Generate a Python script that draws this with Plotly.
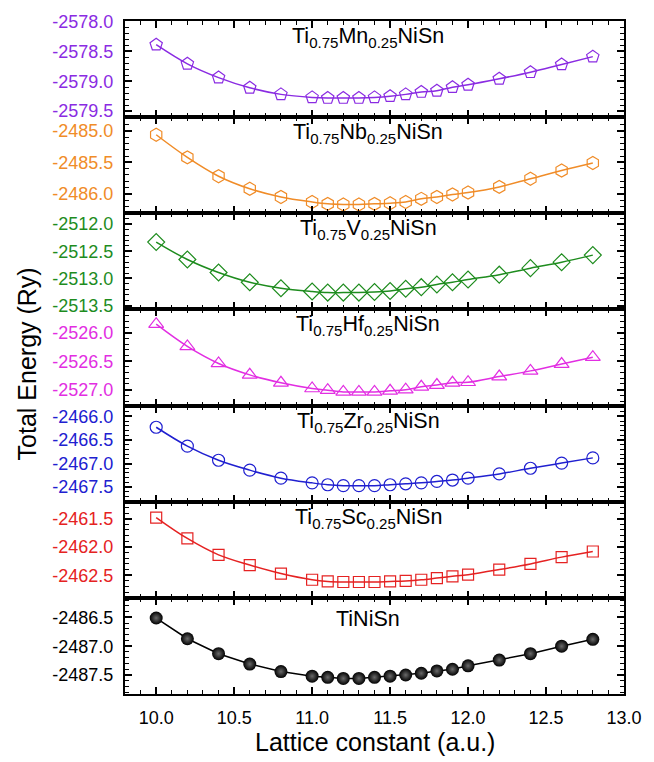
import plotly.graph_objects as go
from plotly.subplots import make_subplots

lattice = [10.0, 10.2, 10.4, 10.6, 10.8, 11.0, 11.1, 11.2, 11.3, 11.4, 11.5,
           11.6, 11.7, 11.8, 11.9, 12.0, 12.2, 12.4, 12.6, 12.8]

e_mn = [-2578.39, -2578.71, -2578.94, -2579.11, -2579.22, -2579.27, -2579.28, -2579.28,
        -2579.28, -2579.27, -2579.25, -2579.22, -2579.18, -2579.16, -2579.10, -2579.06,
        -2578.96, -2578.85, -2578.72, -2578.59]
e_nb = [-2485.06, -2485.42, -2485.72, -2485.92, -2486.05, -2486.13, -2486.16, -2486.17,
        -2486.17, -2486.16, -2486.15, -2486.13, -2486.08, -2486.05, -2486.01, -2485.98,
        -2485.89, -2485.76, -2485.63, -2485.51]
e_v = [-2512.33, -2512.65, -2512.89, -2513.07, -2513.18, -2513.24, -2513.26, -2513.26,
       -2513.26, -2513.25, -2513.23, -2513.19, -2513.16, -2513.11, -2513.07, -2513.02,
       -2512.93, -2512.81, -2512.70, -2512.57]
e_hf = [-2525.85, -2526.24, -2526.54, -2526.74, -2526.88, -2526.98, -2527.01, -2527.04,
        -2527.04, -2527.04, -2527.02, -2527.00, -2526.95, -2526.92, -2526.88, -2526.87,
        -2526.77, -2526.67, -2526.55, -2526.43]
e_zr = [-2466.23, -2466.63, -2466.93, -2467.14, -2467.31, -2467.41, -2467.45, -2467.47,
        -2467.47, -2467.47, -2467.45, -2467.43, -2467.41, -2467.38, -2467.35, -2467.31,
        -2467.22, -2467.10, -2466.99, -2466.88]
e_sc = [-2461.48, -2461.85, -2462.14, -2462.32, -2462.47, -2462.58, -2462.61, -2462.62,
        -2462.62, -2462.62, -2462.61, -2462.60, -2462.58, -2462.55, -2462.52, -2462.49,
        -2462.40, -2462.30, -2462.18, -2462.08]
e_ti = [-2486.51, -2486.87, -2487.13, -2487.31, -2487.44, -2487.52, -2487.54, -2487.56,
        -2487.56, -2487.54, -2487.52, -2487.50, -2487.47, -2487.43, -2487.40, -2487.34,
        -2487.24, -2487.13, -2487.00, -2486.88]

# tick labels per panel (hyphen minus, as in the reference)
yticks_mn = [-2578.0, -2578.5, -2579.0, -2579.5]
yticks_nb = [-2485.0, -2485.5, -2486.0]
yticks_v = [-2512.0, -2512.5, -2513.0, -2513.5]
yticks_hf = [-2526.0, -2526.5, -2527.0]
yticks_zr = [-2466.0, -2466.5, -2467.0, -2467.5]
yticks_sc = [-2461.5, -2462.0, -2462.5]
yticks_ti = [-2486.5, -2487.0, -2487.5]
xticks = [10.0, 10.5, 11.0, 11.5, 12.0, 12.5, 13.0]

labels = ["Ti<sub>0.75</sub>Mn<sub>0.25</sub>NiSn", "Ti<sub>0.75</sub>Nb<sub>0.25</sub>NiSn",
          "Ti<sub>0.75</sub>V<sub>0.25</sub>NiSn", "Ti<sub>0.75</sub>Hf<sub>0.25</sub>NiSn",
          "Ti<sub>0.75</sub>Zr<sub>0.25</sub>NiSn", "Ti<sub>0.75</sub>Sc<sub>0.25</sub>NiSn",
          "TiNiSn"]
series = [e_mn, e_nb, e_v, e_hf, e_zr, e_sc, e_ti]
yticks_all = [yticks_mn, yticks_nb, yticks_v, yticks_hf, yticks_zr, yticks_sc, yticks_ti]
colors = ["#8A2BE2", "#F08C28", "#1E8C1E", "#E22EE2", "#2020D0", "#E52222", "#000000"]
symbols = ["pentagon-open", "hexagon-open", "diamond-open", "triangle-up-open",
           "circle-open", "square-open", "circle"]
sizes = [13, 13, 13, 13, 12, 11, 13]
yranges = [[-2579.6, -2577.995], [-2486.31, -2484.78], [-2513.57, -2511.8],
           [-2527.28, -2525.59], [-2467.81, -2465.77], [-2462.9, -2461.2],
           [-2487.83, -2486.16]]

FONT = "Arial, Liberation Sans, sans-serif"

fig = make_subplots(rows=7, cols=1, shared_xaxes=True, vertical_spacing=0)

for i, (ys, c, sym, sz) in enumerate(zip(series, colors, symbols, sizes)):
    row = i + 1
    if i < 6:
        fig.add_trace(go.Scatter(
            x=lattice, y=ys, mode="lines+markers",
            line=dict(color=c, width=1.5, shape="spline", smoothing=1.0),
            marker=dict(symbol=sym, size=sz, color=c, line=dict(color=c, width=1.2)),
            showlegend=False), row=row, col=1)
    else:
        fig.add_trace(go.Scatter(
            x=lattice, y=ys, mode="lines+markers",
            line=dict(color="black", width=1.5),
            marker=dict(symbol=sym, size=sz, color="black",
                        gradient=dict(type="radial", color="#6a6a6a"),
                        line=dict(width=0)),
            showlegend=False), row=row, col=1)

    yt = yticks_all[i]
    fig.update_yaxes(row=row, col=1, range=yranges[i],
                     tickvals=yt, ticktext=[f"{v:.1f}" for v in yt],
                     ticks="inside", ticklen=7, tickwidth=1.5,
                     tickcolor="black", showline=True, linecolor="black", linewidth=2,
                     mirror="ticks", showgrid=False, zeroline=False,
                     tickfont=dict(family=FONT, size=18, color=c),
                     ticklabelstandoff=6,
                     minor=dict(dtick=0.1, tick0=0, ticks="inside", ticklen=4, tickwidth=1.2,
                                tickcolor="black", showgrid=False))
    fig.update_xaxes(row=row, col=1, range=[9.8, 13.0],
                     tickvals=xticks, ticktext=[f"{v:.1f}" for v in xticks],
                     ticks="inside", ticklen=7, tickwidth=1.5,
                     tickcolor="black", showline=True, linecolor="black", linewidth=2,
                     mirror="ticks", showgrid=False, zeroline=False,
                     showticklabels=(i == 6),
                     tickfont=dict(family=FONT, size=18, color="black"),
                     ticklabelstandoff=6,
                     minor=dict(dtick=0.1, tick0=0, ticks="inside", ticklen=4, tickwidth=1.2,
                                tickcolor="black", showgrid=False))

    yref = "y domain" if row == 1 else f"y{row} domain"
    xref = "x" if row == 1 else f"x{row}"
    fig.add_annotation(x=11.36, y=(0.99 if i < 6 else 0.925), xref=xref, yref=yref,
                       text=labels[i],
                       showarrow=False, xanchor="center", yanchor="top",
                       font=dict(family=FONT, size=21.5, color="black"))

fig.add_annotation(x=-0.196, y=0.49, xref="paper", yref="paper",
                   text="Total Energy (Ry)", textangle=-90, showarrow=False,
                   xanchor="center", yanchor="middle",
                   font=dict(family=FONT, size=25, color="black"))
fig.add_annotation(x=0.501, y=-0.072, xref="paper", yref="paper",
                   text="Lattice constant (a.u.)", showarrow=False,
                   xanchor="center", yanchor="middle",
                   font=dict(family=FONT, size=25, color="black"))

fig.update_layout(width=654, height=762, margin=dict(l=125, r=20, t=14, b=68),
                  paper_bgcolor="white", plot_bgcolor="white",
                  font=dict(family=FONT))

fig.write_html("out.html")
